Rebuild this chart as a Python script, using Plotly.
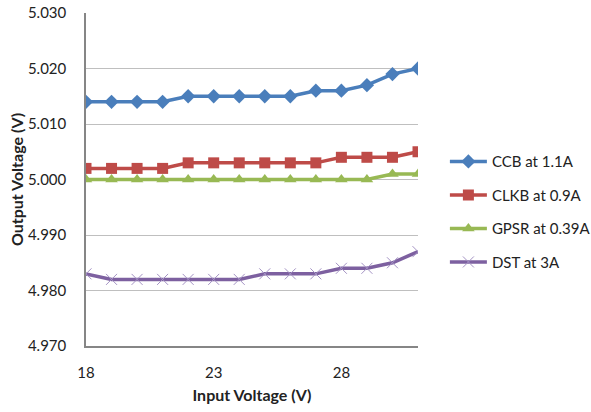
import plotly.graph_objects as go

# Input voltage sweep (V)
input_voltage = [18, 19, 20, 21, 22, 23, 24, 25, 26, 27, 28, 29, 30, 31]

# Output voltage per rail (V)
ccb_out = [5.014, 5.014, 5.014, 5.014, 5.015, 5.015, 5.015, 5.015, 5.015, 5.016, 5.016, 5.017, 5.019, 5.020]
clkb_out = [5.002, 5.002, 5.002, 5.002, 5.003, 5.003, 5.003, 5.003, 5.003, 5.003, 5.004, 5.004, 5.004, 5.005]
gpsr_out = [5.000, 5.000, 5.000, 5.000, 5.000, 5.000, 5.000, 5.000, 5.000, 5.000, 5.000, 5.000, 5.001, 5.001]
dst_out = [4.983, 4.982, 4.982, 4.982, 4.982, 4.982, 4.982, 4.983, 4.983, 4.983, 4.984, 4.984, 4.985, 4.987]

series_names = ["CCB at 1.1A", "CLKB at 0.9A", "GPSR at 0.39A", "DST at 3A"]
series_values = [ccb_out, clkb_out, gpsr_out, dst_out]
series_colors = ["#4a7ebb", "#be4b48", "#98b954", "#7d60a0"]
marker_styles = [
    dict(symbol="diamond", size=11),
    dict(symbol="square", size=11),
    dict(symbol="triangle-up", size=11),
    dict(symbol="x-thin", size=11, line=dict(width=1, color="#a493c4")),
]

font_family = "Lato, Open Sans, sans-serif"

fig = go.Figure()
for name, vals, color, mk in zip(series_names, series_values, series_colors, marker_styles):
    marker = dict(color=color, **mk)
    fig.add_trace(go.Scatter(
        x=input_voltage, y=vals, name=name, mode="lines+markers",
        line=dict(color=color, width=3.5), marker=marker,
        legendgroup=name,
    ))

fig.update_layout(
    width=591, height=412,
    margin=dict(l=86, r=173, t=13, b=66, autoexpand=False),
    paper_bgcolor="white", plot_bgcolor="white",
    font=dict(family=font_family, size=13, color="#222222"),
    showlegend=True,
    legend=dict(
        x=1.081, y=0.603, xanchor="left", yanchor="top",
        font=dict(size=15, color="#222222"),
        traceorder="grouped", tracegroupgap=11, itemwidth=37,
        bgcolor="rgba(0,0,0,0)",
    ),
    xaxis=dict(
        range=[18, 31], tickvals=[18, 23, 28], showgrid=False,
        showline=True, linecolor="#868686", linewidth=1.5,
        zeroline=False, ticks="", ticklabelstandoff=12,
        tickfont=dict(size=15), automargin=False,
        title=dict(text="<b>Input Voltage (V)</b>", font=dict(size=16), standoff=10),
    ),
    yaxis=dict(
        range=[4.970, 5.030], dtick=0.010, tickformat=".3f",
        showgrid=True, gridcolor="#bfbfbf", gridwidth=1,
        showline=True, linecolor="#868686", linewidth=1.5,
        zeroline=False, ticks="", ticklabelstandoff=15,
        tickfont=dict(size=15), automargin=False,
        title=dict(text="<b>Output Voltage (V)</b>", font=dict(size=16), standoff=0),
    ),
)

fig.write_html("out.html")
